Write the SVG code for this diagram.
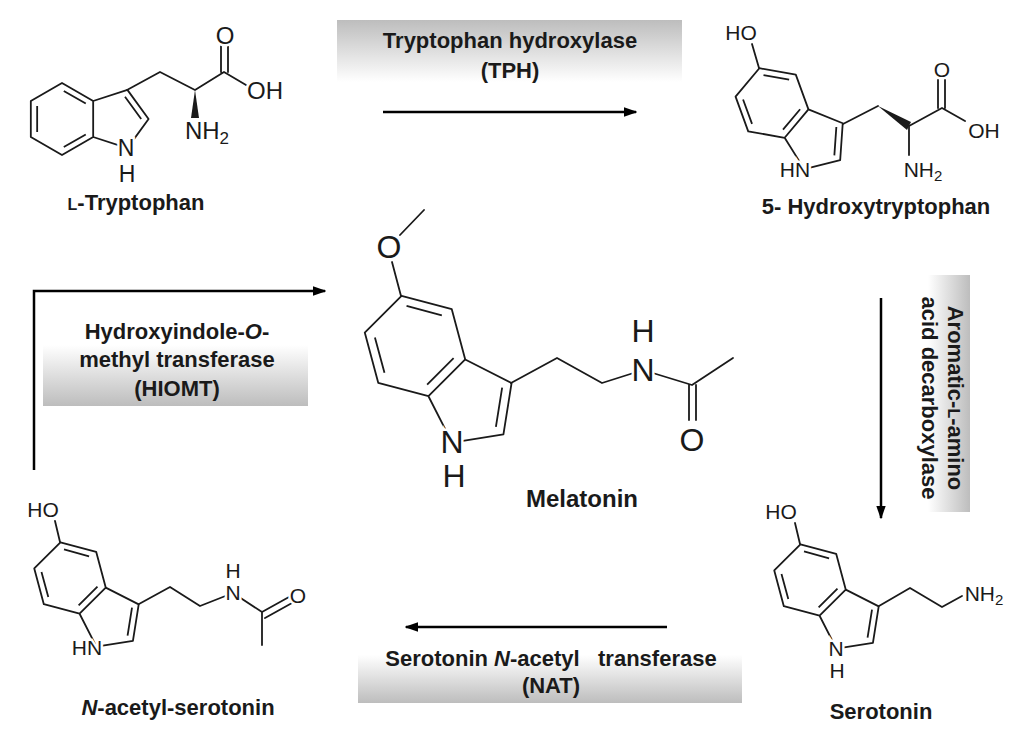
<svg xmlns="http://www.w3.org/2000/svg" xmlns:xlink="http://www.w3.org/1999/xlink" width="1024" height="743" viewBox="0 0 1024 743">
<style>
.b{fill:none;stroke:#1a1a1a;stroke-width:1.8;stroke-linecap:round;stroke-linejoin:round}
.r{fill:none;stroke:#1a1a1a;stroke-width:1.8;stroke-linejoin:round;vector-effect:non-scaling-stroke}
.a{font-family:"Liberation Sans",Arial,sans-serif;fill:#1a1a1a;stroke:#fff;stroke-width:5;paint-order:stroke;text-anchor:middle}
.n{font-family:"Liberation Sans",Arial,sans-serif;font-weight:bold;fill:#1a1a1a;text-anchor:middle}
.e{font-size:22px}
.ar{fill:none;stroke:#000;stroke-width:2.5}
</style>
<defs>
<linearGradient id="gTop" x1="0" y1="0" x2="0" y2="1"><stop offset="0" stop-color="#bdbdbd"/><stop offset="1" stop-color="#fff"/></linearGradient>
<linearGradient id="gBot" x1="0" y1="0" x2="0" y2="1"><stop offset="0" stop-color="#fff"/><stop offset="1" stop-color="#bdbdbd"/></linearGradient>
<linearGradient id="gRight" x1="0" y1="0" x2="1" y2="0"><stop offset="0" stop-color="#fff"/><stop offset="1" stop-color="#bdbdbd"/></linearGradient>
<marker id="ah" viewBox="0 0 10 10" refX="9" refY="5" markerWidth="5.5" markerHeight="5.5" orient="auto" markerUnits="strokeWidth"><path d="M0,1.5 L10,5 L0,8.5 Z" fill="#000"/></marker>
<path id="core" class="r" d="M0.866,-0.5 L0,-1 L-0.866,-0.5 L-0.866,0.5 L0,1 L0.866,0.5 Z M0.866,-0.5 L1.817,-0.809 L2.405,0 L1.817,0.809 L0.866,0.5 M1.75,-0.62 L2.2,0"/>
<path id="kA" class="r" d="M0.05,-0.78 L0.66,-0.43 M0.05,0.78 L0.66,0.43 M-0.69,-0.36 L-0.69,0.36"/>
<path id="kB" class="r" d="M-0.05,-0.78 L-0.66,-0.43 M-0.66,0.43 L-0.05,0.78 M0.69,-0.36 L0.69,0.36"/>
</defs>
<rect x="337" y="20" width="345" height="62" fill="url(#gTop)"/>
<rect x="43" y="345" width="265" height="61" fill="url(#gBot)"/>
<rect x="358" y="655" width="384" height="48" fill="url(#gBot)"/>
<rect x="928" y="275" width="42" height="237" fill="url(#gRight)"/>
<g id="connectors">
<line class="ar" x1="383" y1="112" x2="636" y2="112" marker-end="url(#ah)"/>
<line class="ar" x1="881" y1="298" x2="881" y2="518" marker-end="url(#ah)"/>
<line class="ar" x1="667" y1="627" x2="406" y2="627" marker-end="url(#ah)"/>
<path class="ar" d="M34,470 L34,291 L325,291" marker-end="url(#ah)"/>
</g>
<g id="enzymes">
<text class="n e" x="510" y="48">Tryptophan hydroxylase</text>
<text class="n e" x="510" y="78">(TPH)</text>
<text class="n e" x="177" y="339">Hydroxyindole-<tspan font-style="italic">O</tspan>-</text>
<text class="n e" x="177" y="367">methyl transferase</text>
<text class="n e" x="177" y="396">(HIOMT)</text>
<text class="n e" x="551" y="666" xml:space="preserve">Serotonin <tspan font-style="italic">N</tspan>-acetyl   transferase</text>
<text class="n e" x="551" y="693">(NAT)</text>
<text class="n e" transform="translate(948,398) rotate(90)">Aromatic-<tspan font-size="16">L</tspan>-amino</text>
<text class="n e" transform="translate(922,398) rotate(90)">acid decarboxylase</text>
</g>
<g id="tryptophan">
<use xlink:href="#core" transform="translate(62,119) scale(36)"/>
<use xlink:href="#kA" transform="translate(62,119) scale(36)"/>
<path class="b" d="M127,90 L160,72 L195,90 L224,72 L246,85 M221,72 L221,46 M228,72 L228,46"/>
<polygon points="195,90 191,118 199,118" fill="#1a1a1a"/>
<text class="a" font-size="23" x="126" y="156">N</text>
<text class="a" font-size="23" x="127" y="182">H</text>
<text class="a" font-size="24" x="225" y="44">O</text>
<text class="a" font-size="24" x="265" y="99">OH</text>
<text class="a" font-size="24" x="207" y="139">NH<tspan font-size="17" dy="5">2</tspan></text>
<text class="n" font-size="22" x="136" y="210"><tspan font-size="16">L</tspan>-Tryptophan</text>
</g>
<g id="hydroxytryptophan">
<use xlink:href="#core" transform="translate(772,103) rotate(40) scale(37)"/>
<use xlink:href="#kB" transform="translate(772,103) rotate(40) scale(37)"/>
<path class="b" d="M752,44 L759,68 M843,124 L878,106 M909,126 L942,108 L965,121 M909,126 L909,155 M938,108 L938,80 M945,108 L945,80"/>
<polygon points="878,106 911,122 907,130" fill="#1a1a1a"/>
<text class="a" font-size="21" x="741" y="40">HO</text>
<text class="a" font-size="21" x="795" y="177">HN</text>
<text class="a" font-size="21" x="942" y="77">O</text>
<text class="a" font-size="21" x="984" y="138">OH</text>
<text class="a" font-size="21" x="923" y="177">NH<tspan font-size="15" dy="4">2</tspan></text>
<text class="n" font-size="22" x="876" y="214">5- Hydroxytryptophan</text>
</g>
<g id="melatonin">
<use xlink:href="#core" transform="translate(415,346) rotate(45) scale(52)"/>
<use xlink:href="#kB" transform="translate(415,346) rotate(45) scale(52)"/>
<path class="b" d="M400,235 L424,210 M392,262 L401,296 M511,383 L557,358 L602,383 L643,370 L692,385 L733,358 M689,385 L689,420 M696,385 L696,420"/>
<text class="a" font-size="32" x="389" y="258">O</text>
<text class="a" font-size="32" x="452" y="453">N</text>
<text class="a" font-size="32" x="454" y="487">H</text>
<text class="a" font-size="32" x="643" y="381">N</text>
<text class="a" font-size="32" x="643" y="342">H</text>
<text class="a" font-size="32" x="692" y="451">O</text>
<text class="n" font-size="24" x="582" y="507">Melatonin</text>
</g>
<g id="serotonin">
<use xlink:href="#core" transform="translate(810,580) rotate(45) scale(37)"/>
<use xlink:href="#kB" transform="translate(810,580) rotate(45) scale(37)"/>
<path class="b" d="M795,523 L800,544 M879,606 L910,588 L942,607 L962,596"/>
<text class="a" font-size="21" x="781" y="519">HO</text>
<text class="a" font-size="21" x="836" y="656">N</text>
<text class="a" font-size="21" x="837" y="678">H</text>
<text class="a" font-size="21" x="984" y="601">NH<tspan font-size="15" dy="4">2</tspan></text>
<text class="n" font-size="22" x="881" y="719">Serotonin</text>
</g>
<g id="n-acetylserotonin">
<use xlink:href="#core" transform="translate(70,578) rotate(45) scale(37)"/>
<use xlink:href="#kB" transform="translate(70,578) rotate(45) scale(37)"/>
<path class="b" d="M55,521 L60,542 M139,604 L170,587 L200,606 L233,593 L262,612 L262,645 M262,612 L289,597 M265,618 L292,603"/>
<text class="a" font-size="21" x="43" y="517">HO</text>
<text class="a" font-size="21" x="87" y="655">HN</text>
<text class="a" font-size="21" x="233" y="600">N</text>
<text class="a" font-size="21" x="233" y="578">H</text>
<text class="a" font-size="21" x="298" y="603">O</text>
<text class="n" font-size="22" x="178" y="715"><tspan font-style="italic">N</tspan>-acetyl-serotonin</text>
</g>
</svg>
